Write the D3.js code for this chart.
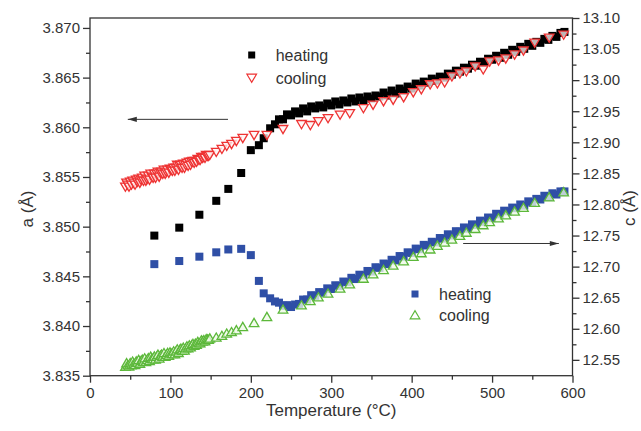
<!DOCTYPE html>
<html>
<head>
<meta charset="utf-8">
<script src="https://cdn.jsdelivr.net/npm/d3@7"></script>
<style>
  body { margin: 0; background: #fff; }
  svg { display: block; font-family: "Liberation Sans", Arial, sans-serif; }
  .axis path, .axis line { stroke: #333; stroke-width: 1.3; }
  .axis text { fill: #333; font-size: 15px; font-family: "Liberation Sans", Arial, sans-serif; }
</style>
</head>
<body>
<svg id="chart" width="641" height="431"></svg>
<script>
// temperature ticks and lattice axis ticks
const xTicks = [0, 100, 200, 300, 400, 500, 600];
const aTicks = [3.835, 3.840, 3.845, 3.850, 3.855, 3.860, 3.865, 3.870];
const cTicks = [12.55, 12.60, 12.65, 12.70, 12.75, 12.80, 12.85, 12.90, 12.95, 13.00, 13.05, 13.10];

// heating run (squares): temperature, a (left axis), c (right axis)
const heatT = [80, 111, 136, 157, 172, 188, 200, 210, 216, 224,
  230, 235, 240, 245, 250, 255, 260, 265, 270, 275, 280, 285, 290, 295, 300, 305, 310, 315, 320, 325,
  330, 335, 340, 345, 350, 355, 360, 365, 370, 375, 380, 385, 390, 395, 400, 405, 410, 415, 420, 425,
  430, 435, 440, 445, 450, 455, 460, 465, 470, 475, 480, 485, 490, 495, 500, 505, 510, 515, 520, 525,
  530, 535, 540, 545, 550, 555, 560, 565, 570, 575, 580, 585, 590];
const heatA = [3.8491, 3.8499, 3.8512, 3.8526, 3.8538, 3.8554, 3.8577, 3.8582, 3.8589, 3.8599,
  3.8603, 3.8608, 3.8608, 3.8613, 3.8612, 3.8616, 3.8614, 3.8619, 3.8616, 3.8621, 3.8619, 3.8622, 3.8620, 3.8624, 3.8622, 3.8626, 3.8623, 3.8627, 3.8625, 3.8629,
  3.8626, 3.8630, 3.8627, 3.8631, 3.8629, 3.8632, 3.8631, 3.8635, 3.8632, 3.8637, 3.8634, 3.8639, 3.8637, 3.8641, 3.8639, 3.8644, 3.8642, 3.8646, 3.8645, 3.8649,
  3.8647, 3.8651, 3.8650, 3.8654, 3.8653, 3.8657, 3.8656, 3.8660, 3.8659, 3.8663, 3.8662, 3.8666, 3.8665, 3.8669, 3.8668, 3.8672, 3.8670, 3.8675, 3.8673, 3.8678,
  3.8676, 3.8681, 3.8679, 3.8684, 3.8682, 3.8686, 3.8685, 3.8689, 3.8688, 3.8692, 3.8691, 3.8695, 3.8696];
const heatC = [12.704, 12.709, 12.716, 12.723, 12.7276, 12.7286, 12.7185, 12.677, 12.657, 12.649,
  12.644, 12.642, 12.637, 12.638, 12.635, 12.639, 12.640, 12.647, 12.647, 12.654, 12.653, 12.659, 12.658, 12.665, 12.664, 12.670, 12.669, 12.676, 12.675, 12.682,
  12.680, 12.687, 12.686, 12.693, 12.692, 12.699, 12.698, 12.705, 12.704, 12.711, 12.710, 12.717, 12.716, 12.723, 12.722, 12.729, 12.728, 12.735, 12.734, 12.740,
  12.739, 12.746, 12.745, 12.752, 12.750, 12.757, 12.756, 12.763, 12.761, 12.768, 12.767, 12.774, 12.772, 12.779, 12.778, 12.785, 12.784, 12.790, 12.789, 12.795,
  12.794, 12.800, 12.798, 12.805, 12.803, 12.809, 12.808, 12.814, 12.812, 12.818, 12.816, 12.821, 12.821];

// cooling run (triangles)
const coolT = [44, 45.5, 47, 48.5, 50, 51.5, 53, 54.5, 56, 57.5, 59, 60.5, 62, 63.5, 65, 66.5, 68, 69.5, 71, 72.5,
  74, 75.5, 77, 78.5, 80, 81.5, 83, 84.5, 86, 87.5, 89, 90.5, 92, 93.5, 95, 96.5, 98, 99.5, 101, 102.5,
  104, 105.5, 107, 108.5, 110, 111.5, 113, 114.5, 116, 117.5, 119, 120.5, 122, 123.5, 125, 126.5, 128, 129.5, 131, 132.5,
  134, 135.5, 137, 138.5, 140, 141.5, 143, 144.5, 146, 147.5, 149,
  157, 164, 170, 176, 182, 190, 204, 220, 240, 263, 274, 284, 296, 311, 323, 340, 352, 365, 377, 390,
  402, 412, 423, 432, 441, 450, 460, 468, 479, 489, 497, 508, 517, 528, 539, 553, 571, 589];
const coolA = [3.8540, 3.8544, 3.8542, 3.8540, 3.8545, 3.8542, 3.8546, 3.8544, 3.8542, 3.8547, 3.8545, 3.8548, 3.8544, 3.8547, 3.8549, 3.8546, 3.8551, 3.8546, 3.8548, 3.8551,
  3.8547, 3.8553, 3.8550, 3.8549, 3.8553, 3.8549, 3.8553, 3.8555, 3.8550, 3.8554, 3.8555, 3.8553, 3.8557, 3.8553, 3.8555, 3.8557, 3.8554, 3.8558, 3.8557, 3.8556,
  3.8559, 3.8556, 3.8559, 3.8562, 3.8557, 3.8561, 3.8562, 3.8559, 3.8563, 3.8559, 3.8562, 3.8564, 3.8561, 3.8565, 3.8562, 3.8565, 3.8566, 3.8564, 3.8566, 3.8565,
  3.8568, 3.8567, 3.8567, 3.8570, 3.8569, 3.8570, 3.8569, 3.8572, 3.8571, 3.8571, 3.8572,
  3.8575, 3.8578, 3.8581, 3.8583, 3.8586, 3.8589, 3.8592, 3.8592, 3.8598, 3.8603, 3.8602, 3.8606, 3.8609, 3.86125, 3.8614, 3.8619, 3.86225, 3.8626, 3.86275, 3.8630,
  3.8635, 3.8638, 3.8643, 3.8644, 3.8645, 3.8651, 3.8654, 3.8656, 3.8661, 3.8658, 3.8666, 3.8667, 3.8669, 3.8673, 3.8677, 3.8685, 3.8690, 3.8693];
const coolC = [12.5392, 12.5449, 12.5416, 12.5395, 12.5452, 12.5418, 12.5476, 12.5442, 12.5421, 12.5478, 12.5458, 12.5502, 12.5442, 12.5486, 12.5505, 12.5471, 12.5528, 12.5468, 12.5500, 12.5531,
  12.5484, 12.5554, 12.5521, 12.5513, 12.5557, 12.5510, 12.5555, 12.5586, 12.5526, 12.5570, 12.5589, 12.5555, 12.5612, 12.5552, 12.5584, 12.5615, 12.5568, 12.5625, 12.5605, 12.5597,
  12.5641, 12.5594, 12.5639, 12.5672, 12.5615, 12.5662, 12.5682, 12.5651, 12.5698, 12.5654, 12.5688, 12.5721, 12.5690, 12.5737, 12.5706, 12.5740, 12.5760, 12.5729, 12.5763, 12.5745,
  12.5792, 12.5774, 12.5770, 12.5817, 12.5799, 12.5820, 12.5802, 12.5836, 12.5831, 12.5826, 12.5847,
  12.5862, 12.589, 12.5926, 12.595, 12.598, 12.6032, 12.6096, 12.6193, 12.6312, 12.6381, 12.645, 12.651, 12.657, 12.665, 12.672, 12.681, 12.688, 12.695, 12.702, 12.709,
  12.716, 12.722, 12.728, 12.734, 12.739, 12.744, 12.750, 12.755, 12.761, 12.767, 12.772, 12.778, 12.783, 12.789, 12.795, 12.803, 12.812, 12.820];

const svg = d3.select("#chart");
const margin = {top: 18, right: 68.5, bottom: 55.3, left: 90};
const W = 641, H = 431;

const x = d3.scaleLinear().domain([0, 600]).range([margin.left, W - margin.right]);
const yA = d3.scaleLinear().domain([3.835, 3.871]).range([H - margin.bottom, margin.top]);
const yC = d3.scaleLinear().domain([12.5245, 13.10]).range([H - margin.bottom, margin.top]);

const col = {black: "#000", red: "#ee3333", blue: "#2f4fa6", green: "#5cb83a"};

const heat = heatT.map((t, i) => ({t, a: heatA[i], c: heatC[i]}));
const cool = coolT.map((t, i) => ({t, a: coolA[i], c: coolC[i]}));

const sq = 8;
const triDown = "M-4.8,-3.8L4.8,-3.8L0,4.4Z";
const triUp = "M-4.8,3.8L4.8,3.8L0,-4.4Z";

// heating a (black squares)
svg.append("g").selectAll("rect").data(heat).join("rect")
  .attr("x", d => x(d.t) - sq / 2).attr("y", d => yA(d.a) - sq / 2)
  .attr("width", sq).attr("height", sq).attr("fill", col.black);

// cooling a (red down triangles)
svg.append("g").selectAll("path").data(cool).join("path")
  .attr("transform", d => `translate(${x(d.t)},${yA(d.a)})`)
  .attr("d", triDown).attr("fill", "#fff2f2").attr("fill-opacity", 0.75)
  .attr("stroke", col.red).attr("stroke-width", 1.3);

// heating c (blue squares)
svg.append("g").selectAll("rect").data(heat).join("rect")
  .attr("x", d => x(d.t) - sq / 2).attr("y", d => yC(d.c) - sq / 2)
  .attr("width", sq).attr("height", sq).attr("fill", col.blue);

// cooling c (green up triangles)
svg.append("g").selectAll("path").data(cool).join("path")
  .attr("transform", d => `translate(${x(d.t)},${yC(d.c)})`)
  .attr("d", triUp).attr("fill", "#eef9e6").attr("fill-opacity", 0.75)
  .attr("stroke", col.green).attr("stroke-width", 1.3);

// axes
const bottom = H - margin.bottom;
const minor = (ticks) => ticks.slice(0, -1).map((v, i) => (v + ticks[i + 1]) / 2);

svg.append("g").attr("class", "axis").attr("transform", `translate(0,${bottom})`)
  .call(d3.axisBottom(x).tickValues(xTicks).tickSize(7).tickPadding(5).tickFormat(d3.format("d")))
  .call(g => g.select(".domain").remove());
svg.append("g").attr("class", "axis").attr("transform", `translate(0,${bottom})`)
  .call(d3.axisBottom(x).tickValues(minor(xTicks)).tickSize(4).tickFormat(""))
  .call(g => g.select(".domain").remove());

svg.append("g").attr("class", "axis").attr("transform", `translate(${margin.left},0)`)
  .call(d3.axisLeft(yA).tickValues(aTicks).tickSize(7).tickFormat(d3.format(".3f")))
  .call(g => g.select(".domain").remove());
svg.append("g").attr("class", "axis").attr("transform", `translate(${margin.left},0)`)
  .call(d3.axisLeft(yA).tickValues(minor(aTicks)).tickSize(4).tickFormat(""))
  .call(g => g.select(".domain").remove());

svg.append("g").attr("class", "axis").attr("transform", `translate(${W - margin.right},0)`)
  .call(d3.axisRight(yC).tickValues(cTicks).tickSize(7).tickFormat(d3.format(".2f")))
  .call(g => g.select(".domain").remove());
svg.append("g").attr("class", "axis").attr("transform", `translate(${W - margin.right},0)`)
  .call(d3.axisRight(yC).tickValues(minor(cTicks)).tickSize(4).tickFormat(""))
  .call(g => g.select(".domain").remove());

// frame
svg.append("rect")
  .attr("x", margin.left).attr("y", margin.top)
  .attr("width", W - margin.left - margin.right).attr("height", bottom - margin.top)
  .attr("fill", "none").attr("stroke", "#333").attr("stroke-width", 1.3);

// axis titles
svg.append("text").attr("x", x(300)).attr("y", 416).attr("text-anchor", "middle")
  .attr("font-size", 17).attr("fill", "#333").text("Temperature (°C)");
svg.append("text").attr("transform", "translate(33,209) rotate(-90)").attr("text-anchor", "middle")
  .attr("font-size", 17).attr("fill", "#333").text("a (Å)");
svg.append("text").attr("transform", "translate(635,208) rotate(-90)").attr("text-anchor", "middle")
  .attr("font-size", 17).attr("fill", "#333").text("c (Å)");

// arrows
function arrow(x1, x2, y, dir) {
  svg.append("line").attr("x1", x1).attr("x2", x2).attr("y1", y).attr("y2", y)
    .attr("stroke", "#333").attr("stroke-width", 1);
  const tip = dir < 0 ? Math.min(x1, x2) : Math.max(x1, x2);
  svg.append("path")
    .attr("d", `M${tip},${y}L${tip - dir * 9},${y - 2.6}L${tip - dir * 9},${y + 2.6}Z`)
    .attr("fill", "#333");
}
arrow(x(171.6), x(47), yA(3.8608), -1);
arrow(x(464), x(583), yC(12.7372), 1);

// legends
function legend(px, py, shape, fill, stroke, label) {
  const g = svg.append("g").attr("transform", `translate(${px},${py})`);
  if (shape === "sq") {
    g.append("rect").attr("x", -3.5).attr("y", -3.5).attr("width", 7).attr("height", 7).attr("fill", fill);
  } else {
    g.append("path").attr("d", shape).attr("fill", fill).attr("stroke", stroke).attr("stroke-width", 1.2);
  }
  g.append("text").attr("x", 24).attr("y", 6).attr("font-size", 16).attr("fill", "#333").text(label);
}
legend(251.7, 55, "sq", col.black, null, "heating");
legend(251.7, 78, triDown, "#fff", col.red, "cooling");
legend(415, 294, "sq", col.blue, null, "heating");
legend(415, 315, triUp, "#fff", col.green, "cooling");
</script>
</body>
</html>
